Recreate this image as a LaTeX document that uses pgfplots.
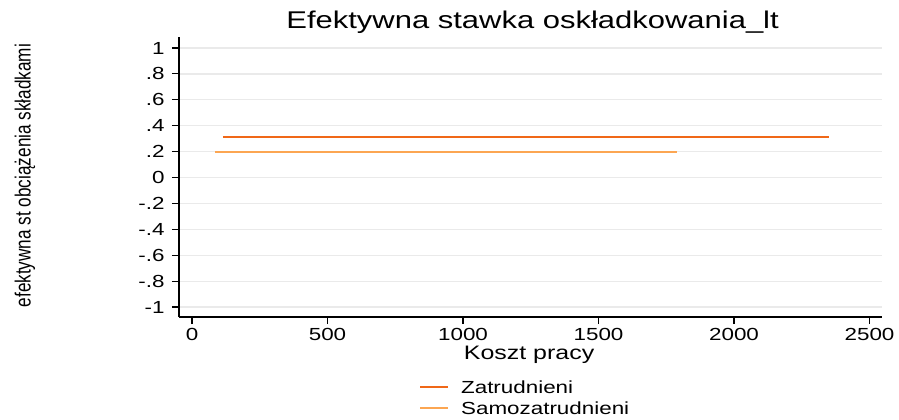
\documentclass[border=0pt]{standalone}
\usepackage{fontspec}
\setmainfont[FakeStretch=1.28]{Liberation Sans}
\newfontfamily\ylabfont[FakeStretch=0.78]{Liberation Sans}
\usepackage{pgfplots}
\pgfplotsset{compat=1.18}
\definecolor{zat}{RGB}{240,104,24}
\definecolor{sam}{RGB}{252,166,82}
\definecolor{gridc}{RGB}{234,234,234}
\begin{document}
\begin{tikzpicture}
\path[use as bounding box] (-179pt,-103pt) rectangle (720pt,317pt);
\begin{axis}[
  scale only axis,
  width=703pt, height=280pt,
  xmin=-48, xmax=2546,
  ymin=-1.077, ymax=1.085,
  axis x line*=bottom, axis y line*=left,
  axis line style={black, line width=1.1pt, -},
  xtick={0,500,1000,1500,2000,2500},
  ytick={-1,-0.8,-0.6,-0.4,-0.2,0,0.2,0.4,0.6,0.8,1},
  yticklabels={-1,-.8,-.6,-.4,-.2,0,.2,.4,.6,.8,1},
  xticklabels={0,500,1000,1500,2000,2500},
  tick align=outside,
  major tick length=7pt,
  tick style={black, line width=1.1pt},
  ymajorgrids, grid style={gridc, line width=1.2pt},
  tick label style={font=\fontsize{17.5}{18}\selectfont},
  yticklabel style={xshift=-4pt},
  xticklabel style={inner sep=0pt, yshift=-4pt},
  title={Efektywna stawka oskładkowania\_lt},
  title style={font=\fontsize{24.2}{25}\selectfont, at={(axis description cs:0.503,1)}, anchor=base, yshift=2pt},
  xlabel={Koszt pracy},
  xlabel style={font=\fontsize{19.5}{20}\selectfont, inner sep=0pt, at={(axis description cs:0.498,0)}, anchor=base, yshift=-42pt},
  ylabel={efektywna st obciążenia składkami},
  ylabel style={font=\ylabfont\fontsize{22}{22}\selectfont, at={(axis description cs:-0.219,0.505)}, anchor=center},
  legend style={at={(axis description cs:0.341,-0.222)}, anchor=north west, draw=none, fill=none,
    font=\fontsize{17.5}{18}\selectfont, row sep=6pt, column sep=11pt, inner sep=0pt,
    nodes={inner sep=1pt, text height=13pt, text depth=0pt}},
  legend cell align=left,
  legend image code/.code={\draw[#1, line width=2.2pt] (0pt,0pt) -- (28pt,0pt);},
]
\addplot[zat, line width=2.2pt] coordinates {(114,0.312) (2350,0.312)};
\addlegendentry{Zatrudnieni}
\addplot[sam, line width=2.2pt] coordinates {(85,0.198) (1790,0.198)};
\addlegendentry{Samozatrudnieni}
\end{axis}
\end{tikzpicture}
\end{document}
